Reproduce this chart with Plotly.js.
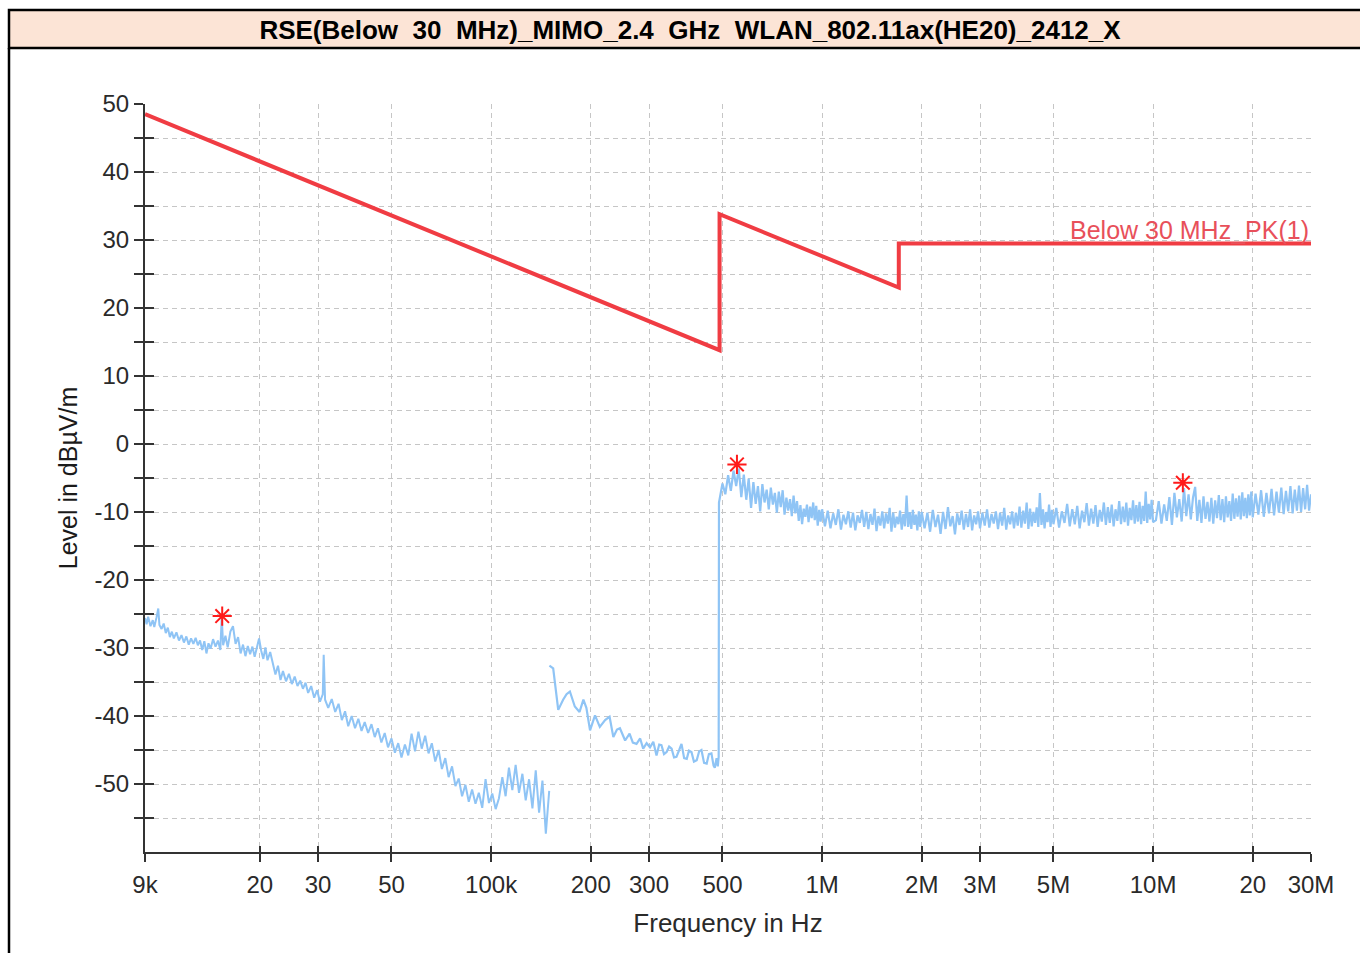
<!DOCTYPE html>
<html><head><meta charset="utf-8">
<script src="https://cdn.plot.ly/plotly-3.0.1.min.js"></script>
<style>html,body{margin:0;padding:0;background:#fff;}#chart{width:1360px;height:953px;}</style>
</head><body><div id="chart"></div>
<script>
// ---------------- DATA (frequencies in kHz, levels in dBuV/m) ----------------
const titleText = 'RSE(Below\u00a0 30\u00a0 MHz)_MIMO_2.4\u00a0 GHz\u00a0 WLAN_802.11ax(HE20)_2412_X';
const xTitle = 'Frequency in Hz';
const yTitle = 'Level in dB\u00b5V/m';
const limitName = 'Below 30 MHz_PK(1)';

const xTickKHz = [9, 20, 30, 50, 100, 200, 300, 500, 1000, 2000, 3000, 5000, 10000, 20000, 30000];
const xTickText = ['9k', '20', '30', '50', '100k', '200', '300', '500', '1M', '2M', '3M', '5M', '10M', '20', '30M'];
const yTickVals = [-55, -50, -45, -40, -35, -30, -25, -20, -15, -10, -5, 0, 5, 10, 15, 20, 25, 30, 35, 40, 45, 50];
const yTickText = ['', '-50', '', '-40', '', '-30', '', '-20', '', '-10', '', '0', '', '10', '', '20', '', '30', '', '40', '', '50'];

// limit line (PK)
const limitKHz = [9, 490, 490, 1705, 1705, 30000];
const limitLevel = [48.5, 13.8, 33.8, 23.0, 29.5, 29.5];

// peak markers
const peakKHz = [15.4, 553, 12300];
const peakLevel = [-25.3, -3.0, -5.7];

// measured trace, 9 kHz - 150 kHz
const fLow = [
  9.0, 9.1, 9.2, 9.35, 9.5, 9.6, 9.75, 9.87, 9.95, 10.1,
  10.25, 10.4, 10.55, 10.7, 10.85, 11.0, 11.2, 11.4, 11.6, 11.8,
  12.0, 12.2, 12.4, 12.6, 12.8, 13.0, 13.2, 13.4, 13.6, 13.8,
  14.0, 14.2, 14.45, 14.7, 14.95, 15.2, 15.35, 15.5, 15.75, 16.0,
  16.3, 16.6, 16.9, 17.2, 17.5, 17.8, 18.1, 18.4, 18.7, 19.0,
  19.3, 19.6, 19.9, 20.2, 20.5, 20.8, 21.1, 21.5, 21.9, 22.3,
  22.7, 23.1, 23.5, 24.0, 24.5, 25.0, 25.5, 26.0, 26.5, 27.0,
  27.5, 28.0, 28.6, 29.2, 29.8, 30.4, 31.0, 31.2, 31.5, 32.2,
  33.0, 33.8, 34.6, 35.4, 36.2, 37.0, 37.9, 38.8, 39.7, 40.6,
  41.5, 42.5, 43.5, 44.5, 45.5, 46.6, 47.7, 48.8, 50.0, 51.2,
  52.4, 53.6, 54.9, 56.2, 57.5, 58.9, 60.3, 61.7, 63.2, 64.7,
  66.2, 67.8, 69.4, 71.0, 72.7, 74.4, 76.2, 78.0, 79.8, 81.7,
  83.6, 85.6, 87.6, 89.7, 91.8, 94.0, 96.2, 98.5, 100.8, 103.2,
  105.6, 108.1, 110.6, 113.2, 115.9, 118.6, 121.4, 124.3, 127.2, 130.2,
  133.3, 136.4, 139.6, 142.9, 146.3, 149.8
];
const lLow = [
  -25.6, -26.5, -25.4, -26.8, -25.9, -26.9, -25.5, -24.2, -26.6, -27.2,
  -26.4, -27.8, -27.0, -28.4, -27.6, -28.6, -27.7, -28.9, -28.1, -29.2,
  -28.3, -29.5, -28.6, -29.4, -28.5, -29.6, -28.9, -30.3, -29.0, -30.8,
  -29.3, -30.1, -28.7, -29.8, -28.9, -30.3, -25.4, -29.6, -28.2, -29.9,
  -27.6, -26.8, -29.4, -28.4, -30.8, -29.5, -31.2, -29.7, -30.9, -29.8,
  -31.3, -30.0, -28.6, -30.4, -31.6, -29.9, -31.8, -30.6, -32.4, -33.9,
  -32.6, -34.7, -33.4, -34.9, -33.8, -35.3, -34.2, -35.6, -34.8, -36.0,
  -35.1, -36.6, -35.6, -37.3, -36.2, -37.9, -36.8, -31.0, -37.6, -38.8,
  -37.5, -39.4, -38.2, -40.6, -39.3, -41.5, -40.0, -41.8, -40.4, -42.2,
  -40.9, -42.5, -41.2, -43.1, -41.8, -43.9, -42.5, -44.6, -43.3, -45.4,
  -44.0, -46.1, -44.2, -45.8, -42.6, -45.2, -42.3, -44.8, -42.9, -45.5,
  -44.0, -46.7, -45.0, -47.8, -46.2, -49.0, -47.4, -50.3, -49.2, -51.8,
  -50.1, -52.6, -50.8, -52.9, -51.3, -53.5, -49.3, -52.8, -51.4, -53.7,
  -52.1, -49.0, -51.8, -47.6, -50.9, -47.2, -51.3, -48.5, -52.4, -49.3,
  -53.6, -48.0, -54.2, -49.5, -57.3, -51.0
];

// measured trace, 150 kHz - 490 kHz
const fMid = [
  150, 154, 159.5, 165, 169, 173, 179, 185, 190, 194,
  199, 206, 213, 221, 228, 234, 240, 245, 254, 262,
  268, 275, 282, 288, 295, 302, 309, 316, 322, 327,
  333, 339, 345, 351, 357, 363, 370, 376, 383, 390,
  396, 403, 410, 418, 425, 432, 440, 448, 455, 463,
  470, 474, 480, 484, 487
];
const lMid = [
  -32.6, -33.0, -39.1, -37.6, -36.8, -36.4, -38.6, -39.4, -37.6, -38.8,
  -42.1, -39.9, -41.6, -40.6, -40.1, -43.1, -42.0, -41.8, -43.6, -42.6,
  -43.9, -44.1, -43.3, -44.8, -44.0, -44.6, -43.8, -45.8, -44.2, -44.3,
  -45.6, -45.3, -44.5, -44.8, -46.1, -46.0, -45.0, -44.1, -46.2, -46.3,
  -45.1, -45.3, -46.7, -46.5, -45.2, -45.0, -46.9, -47.0, -45.6, -45.5,
  -47.3, -47.6, -46.2, -47.4, -46.0
];

// 490 kHz - 1 MHz
const fHigh1 = [
  488, 500, 510, 520, 530, 540, 550, 560, 570, 580,
  590, 600, 610, 620, 630, 640, 650, 660, 670, 680,
  690, 700, 710, 720, 730, 740, 750, 760, 770, 780,
  790, 800, 810, 820, 830, 840, 850, 860, 870, 880,
  890, 900, 910, 920, 930, 940, 950, 960, 970, 980,
  990, 1000
];
const lHigh1 = [
  -8.6, -5.8, -7.4, -4.6, -6.9, -3.9, -6.2, -3.6, -7.8, -4.5,
  -8.2, -5.1, -9.4, -5.6, -8.8, -6.2, -9.9, -5.9, -8.6, -6.7,
  -9.6, -6.4, -8.9, -7.2, -10.1, -7.0, -9.3, -6.8, -10.4, -7.9,
  -9.8, -8.1, -10.6, -7.6, -10.2, -8.4, -11.3, -9.0, -11.8, -9.5,
  -10.7, -8.9, -11.5, -9.2, -10.9, -8.6, -11.2, -9.1, -12.0, -9.7,
  -11.4, -9.6
];

// 1 MHz - 2 MHz
const fHigh2 = [
  1020, 1040, 1060, 1080, 1100, 1120, 1140, 1160, 1180, 1200,
  1220, 1240, 1260, 1280, 1300, 1320, 1340, 1360, 1380, 1400,
  1420, 1440, 1460, 1480, 1500, 1520, 1540, 1560, 1580, 1600,
  1620, 1640, 1660, 1680, 1700, 1720, 1740, 1760, 1780, 1800,
  1820, 1840, 1860, 1880, 1900, 1920, 1940, 1960, 1980, 2000
];
const lHigh2 = [
  -12.1, -9.8, -12.4, -10.2, -11.9, -9.6, -12.6, -10.4, -11.8, -9.9,
  -12.3, -10.1, -12.7, -10.5, -11.6, -9.7, -12.2, -10.0, -12.5, -10.3,
  -11.9, -9.5, -12.8, -10.6, -12.0, -9.9, -12.4, -10.2, -11.7, -9.4,
  -12.9, -10.1, -12.3, -10.7, -11.8, -9.8, -12.6, -10.3, -12.1, -7.6,
  -12.2, -10.0, -12.5, -9.7, -11.9, -10.4, -12.7, -9.9, -12.2, -10.0
];

// 2 MHz - 3 MHz
const fHigh3 = [
  2040, 2080, 2120, 2160, 2200, 2240, 2280, 2320, 2360, 2400,
  2440, 2480, 2520, 2560, 2600, 2640, 2680, 2720, 2760, 2800,
  2840, 2880, 2920, 2960, 3000
];
const lHigh3 = [
  -12.4, -10.1, -12.9, -9.7, -12.2, -10.4, -13.2, -10.0, -12.5, -9.3,
  -12.1, -10.6, -13.3, -10.2, -11.9, -9.8, -12.6, -10.3, -12.2, -9.6,
  -12.7, -10.5, -11.8, -9.9, -12.4
];

// 3 MHz - 5 MHz
const fHigh4 = [
  3050, 3100, 3150, 3200, 3250, 3300, 3350, 3400, 3450, 3500,
  3550, 3600, 3650, 3700, 3750, 3800, 3850, 3900, 3950, 4000,
  4050, 4100, 4150, 4200, 4250, 4300, 4350, 4400, 4450, 4500,
  4550, 4600, 4650, 4700, 4750, 4800, 4850, 4900, 4950, 5000
];
const lHigh4 = [
  -10.1, -12.0, -9.6, -12.3, -10.3, -11.7, -9.9, -12.5, -10.1, -12.0,
  -9.4, -12.6, -10.5, -11.8, -9.9, -12.4, -10.1, -12.0, -9.2, -12.3,
  -9.8, -11.7, -8.6, -12.5, -9.5, -12.1, -10.0, -11.6, -9.3, -12.2,
  -7.2, -11.9, -9.6, -12.4, -10.0, -11.5, -8.9, -12.2, -9.7, -11.8
];

// 5 MHz - 10 MHz
const fHigh5 = [
  5100, 5200, 5300, 5400, 5500, 5600, 5700, 5800, 5900, 6000,
  6100, 6200, 6300, 6400, 6500, 6600, 6700, 6800, 6900, 7000,
  7100, 7200, 7300, 7400, 7500, 7600, 7700, 7800, 7900, 8000,
  8100, 8200, 8300, 8400, 8500, 8600, 8700, 8800, 8900, 9000,
  9100, 9200, 9300, 9400, 9500, 9600, 9700, 9800, 9900, 10000
];
const lHigh5 = [
  -9.4, -12.3, -9.9, -11.6, -8.8, -12.1, -9.6, -11.8, -9.1, -12.4,
  -9.8, -11.5, -8.7, -12.0, -9.5, -11.7, -9.0, -12.2, -9.7, -11.4,
  -8.6, -11.9, -9.3, -11.6, -8.9, -12.1, -9.6, -11.3, -8.4, -11.8,
  -9.2, -11.5, -8.6, -12.0, -9.4, -11.2, -8.3, -11.7, -9.0, -11.4,
  -8.5, -11.8, -9.1, -11.3, -7.0, -11.6, -8.8, -11.1, -8.2, -11.5
];

// 10 MHz - 20 MHz
const fHigh6 = [
  10200, 10400, 10600, 10800, 11000, 11200, 11400, 11600, 11800, 12000,
  12200, 12400, 12600, 12800, 13000, 13200, 13400, 13600, 13800, 14000,
  14200, 14400, 14600, 14800, 15000, 15200, 15400, 15600, 15800, 16000,
  16200, 16400, 16600, 16800, 17000, 17200, 17400, 17600, 17800, 18000,
  18200, 18400, 18600, 18800, 19000, 19200, 19400, 19600, 19800, 20000
];
const lHigh6 = [
  -11.2, -8.4, -11.7, -8.9, -11.3, -7.8, -11.9, -7.2, -10.8, -8.1,
  -11.4, -6.5, -10.6, -7.4, -11.1, -7.9, -6.3, -11.3, -8.2, -11.6,
  -7.7, -11.0, -8.5, -11.4, -7.9, -11.7, -8.3, -10.9, -7.5, -11.2,
  -8.1, -11.5, -7.7, -10.8, -8.4, -11.3, -7.3, -11.0, -8.0, -10.7,
  -7.6, -11.1, -7.1, -10.6, -7.9, -10.9, -7.4, -10.5, -7.0, -10.8
];

// 20 MHz - 30 MHz
const fHigh7 = [
  20400, 20800, 21200, 21600, 22000, 22400, 22800, 23200, 23600, 24000,
  24400, 24800, 25200, 25600, 26000, 26400, 26800, 27200, 27600, 28000,
  28400, 28800, 29200, 29600, 30000
];
const lHigh7 = [
  -7.3, -10.4, -6.8, -10.7, -7.2, -10.2, -6.6, -10.5, -7.0, -10.1,
  -6.4, -10.3, -6.9, -9.9, -6.2, -10.2, -6.7, -9.8, -6.1, -10.0,
  -6.5, -9.6, -6.0, -9.8, -7.4
];

// ---------------- LAYOUT HELPERS ----------------
const PL = 145, PR = 1311, PT = 104, PB = 852;
const pxX = px => (px - PL) / (PR - PL);
const pxY = py => (PB - py) / (PB - PT);
const kHz = arr => arr.map(v => v * 1000);

const traceColor = '#8fc4f5';
const limitColor = '#f03c43';
const axisColor = '#333333';
const gridColor = '#c6c6c6';
const fontFam = '"Liberation Sans", Arial, sans-serif';

const fHighAll = [].concat(fMid, fHigh1, fHigh2, fHigh3, fHigh4, fHigh5, fHigh6, fHigh7);
const lHighAll = [].concat(lMid, lHigh1, lHigh2, lHigh3, lHigh4, lHigh5, lHigh6, lHigh7);

const xRange = [Math.log10(9000), Math.log10(30e6)];
const yRange = [-60, 50];

const traces = [
  {x: kHz(fLow), y: lLow, type: 'scatter', mode: 'lines', line: {color: traceColor, width: 2}, xaxis: 'x', yaxis: 'y', hoverinfo: 'skip', showlegend: false},
  {x: kHz(fHighAll), y: lHighAll, type: 'scatter', mode: 'lines', line: {color: traceColor, width: 2.2}, xaxis: 'x', yaxis: 'y', hoverinfo: 'skip', showlegend: false},
  {x: kHz(limitKHz), y: limitLevel, type: 'scatter', mode: 'lines', name: limitName, line: {color: limitColor, width: 4}, xaxis: 'x2', yaxis: 'y2', hoverinfo: 'skip', showlegend: false},
  {x: kHz(peakKHz), y: peakLevel, type: 'scatter', mode: 'markers', marker: {symbol: 'asterisk-open', size: 16, color: '#ff1a1a', line: {color: '#ff1a1a', width: 2}}, xaxis: 'x', yaxis: 'y', hoverinfo: 'skip', showlegend: false}
];

const layout = {
  width: 1360, height: 953,
  margin: {l: PL, r: 1360 - PR, t: PT, b: 953 - PB},
  paper_bgcolor: '#ffffff', plot_bgcolor: '#ffffff',
  showlegend: false,
  title: {
    text: '<b>' + titleText + '</b>',
    x: 690 / 1360, xref: 'container', xanchor: 'center',
    y: 1 - 30 / 953, yref: 'container', yanchor: 'middle',
    font: {family: fontFam, size: 26, color: '#000000'}
  },
  xaxis: {
    type: 'log', range: xRange,
    tickmode: 'array', tickvals: kHz(xTickKHz), ticktext: xTickText,
    ticks: 'outside', ticklen: 8, tickwidth: 2, tickcolor: axisColor,
    showline: true, linecolor: axisColor, linewidth: 2,
    showgrid: true, gridcolor: gridColor, gridwidth: 1, griddash: '5px,4px',
    zeroline: false,
    tickfont: {family: fontFam, size: 24, color: '#2a2a2a'},
    ticklabelstandoff: 2,
    title: {text: xTitle, font: {family: fontFam, size: 26, color: '#2a2a2a'}, standoff: 17}
  },
  xaxis2: {
    type: 'log', range: xRange, overlaying: 'x', anchor: 'y2', side: 'bottom',
    tickmode: 'array', tickvals: kHz(xTickKHz),
    ticks: 'inside', ticklen: 6, tickwidth: 2, tickcolor: axisColor,
    showticklabels: false, showgrid: false, showline: false, zeroline: false
  },
  yaxis: {
    range: yRange,
    tickmode: 'array', tickvals: yTickVals, ticktext: yTickText,
    ticks: 'outside', ticklen: 9, tickwidth: 2, tickcolor: axisColor,
    showline: true, linecolor: axisColor, linewidth: 2,
    showgrid: true, gridcolor: gridColor, gridwidth: 1, griddash: '5px,4px',
    zeroline: false,
    tickfont: {family: fontFam, size: 24, color: '#2a2a2a'},
    title: {text: yTitle, font: {family: fontFam, size: 25, color: '#1a1a1a'}, standoff: 10}
  },
  yaxis2: {
    range: yRange, overlaying: 'y', anchor: 'x2', side: 'left',
    tickmode: 'array', tickvals: yTickVals,
    ticks: 'inside', ticklen: 9, tickwidth: 2, tickcolor: axisColor,
    showticklabels: false, showgrid: false, showline: false, zeroline: false
  },
  annotations: [
    {text: limitName, xref: 'x2', yref: 'y2', x: Math.log10(30e6), y: 29.5, xanchor: 'right', yanchor: 'bottom', yshift: -3,
     showarrow: false, font: {family: fontFam, size: 25, color: '#e8505a'}}
  ],
  shapes: [
    {type: 'rect', xref: 'paper', yref: 'paper', x0: pxX(9), x1: pxX(1370), y0: pxY(48), y1: pxY(10),
     fillcolor: '#fce4d6', line: {color: '#000000', width: 2.5}, layer: 'above'},
    {type: 'line', xref: 'paper', yref: 'paper', x0: pxX(9), x1: pxX(9), y0: pxY(48), y1: pxY(960),
     line: {color: '#000000', width: 2.5}, layer: 'above'}
  ]
};

Plotly.newPlot('chart', traces, layout, {displayModeBar: false, staticPlot: true});
</script>
</body></html>
